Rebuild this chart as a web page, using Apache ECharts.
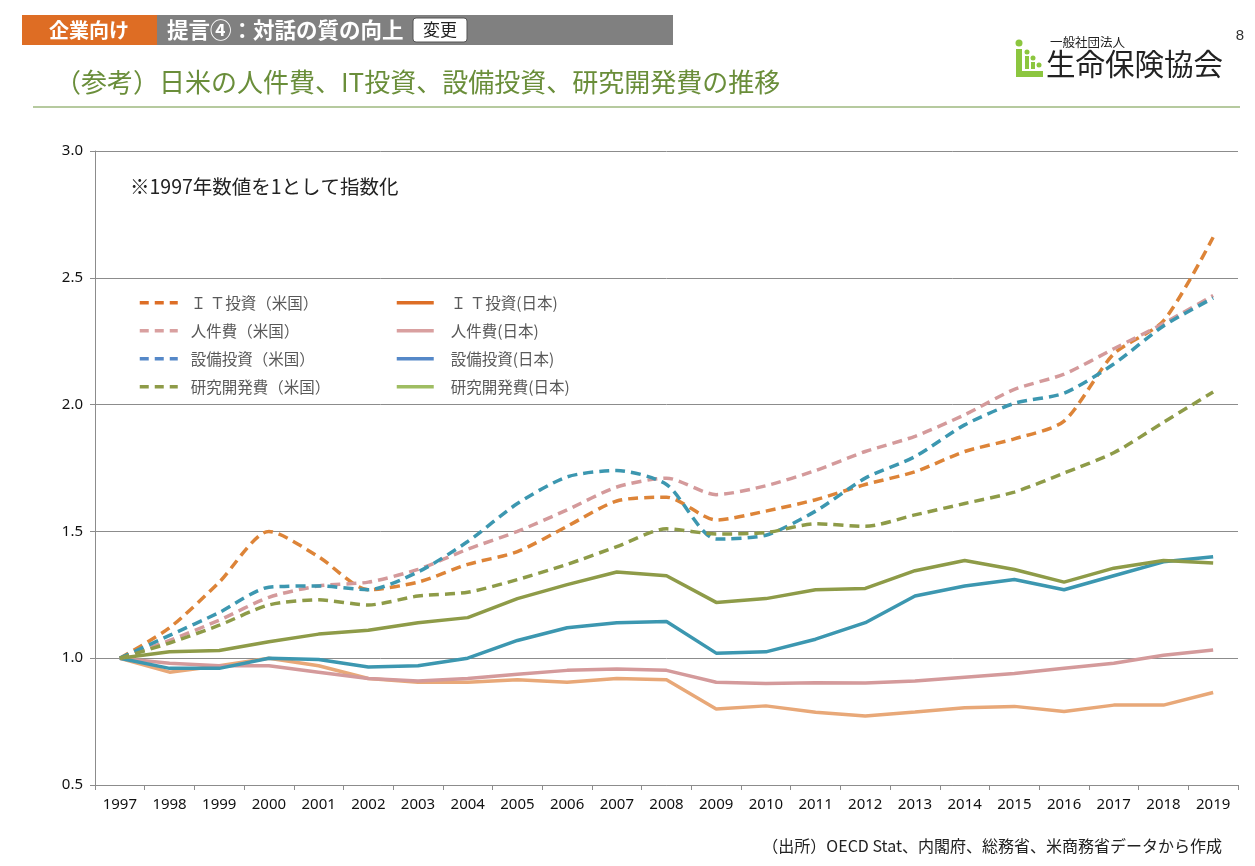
<!DOCTYPE html>
<html><head><meta charset="utf-8">
<script src="https://cdn.jsdelivr.net/npm/echarts@6/dist/echarts.min.js"></script>
<style>html,body{margin:0;padding:0;background:#fff}#c{width:1255px;height:866px}</style>
</head><body><div id="c"></div>
<script>
const years = ['1997','1998','1999','2000','2001','2002','2003','2004','2005','2006','2007','2008','2009','2010','2011','2012','2013','2014','2015','2016','2017','2018','2019'];
const itUS    = [1.00,1.12,1.30,1.50,1.40,1.27,1.30,1.37,1.42,1.52,1.62,1.635,1.545,1.58,1.625,1.685,1.735,1.815,1.865,1.935,2.20,2.33,2.66];
const laborUS = [1.00,1.07,1.15,1.24,1.285,1.30,1.35,1.43,1.50,1.585,1.675,1.71,1.645,1.68,1.74,1.815,1.875,1.96,2.06,2.12,2.22,2.32,2.43];
const equipUS = [1.00,1.09,1.18,1.28,1.285,1.27,1.34,1.46,1.61,1.715,1.74,1.685,1.47,1.485,1.58,1.71,1.795,1.92,2.005,2.045,2.16,2.31,2.42];
const rdUS    = [1.00,1.06,1.13,1.21,1.23,1.21,1.245,1.26,1.31,1.37,1.44,1.51,1.49,1.495,1.53,1.52,1.565,1.61,1.655,1.73,1.81,1.93,2.05];
const itJP    = [1.00,0.945,0.97,1.00,0.97,0.92,0.905,0.905,0.915,0.905,0.92,0.915,0.80,0.812,0.787,0.772,0.788,0.805,0.81,0.79,0.815,0.815,0.865];
const laborJP = [1.00,0.98,0.97,0.97,0.945,0.92,0.91,0.92,0.937,0.952,0.957,0.952,0.905,0.90,0.903,0.902,0.91,0.925,0.94,0.96,0.98,1.012,1.032];
const equipJP = [1.00,0.96,0.96,1.00,0.995,0.965,0.97,1.00,1.07,1.12,1.14,1.145,1.02,1.025,1.075,1.14,1.245,1.285,1.31,1.27,1.325,1.38,1.40];
const rdJP    = [1.00,1.025,1.03,1.065,1.095,1.11,1.14,1.16,1.235,1.29,1.34,1.325,1.22,1.235,1.27,1.275,1.345,1.385,1.35,1.30,1.355,1.385,1.375];
const names = ['Ｉ Ｔ投資（米国）','人件費（米国）','設備投資（米国）','研究開発費（米国）','Ｉ Ｔ投資(日本)','人件費(日本)','設備投資(日本)','研究開発費(日本)'];
const yTicks = [0.5,1.0,1.5,2.0,2.5,3.0];

const FONT = '"Noto Sans CJK JP","Noto Sans",sans-serif';
const lineCols = ['#DD8438','#D49A9B','#3C97B0','#8E9B48','#E8A878','#D49A9B','#3C97B0','#8E9B48'];
const legCols  = ['#DD6E26','#D9A0A0','#5588C8','#8E9B48','#DD6E26','#D9A0A0','#5588C8','#9FBD62'];
const datas = [itUS,laborUS,equipUS,rdUS,itJP,laborJP,equipJP,rdJP];

const series = datas.map((d,i)=>({
  name: names[i], type:'line', data:d, symbol:'none', showSymbol:false, smooth: i<4 ? 0.25 : false,
  z: i<4 ? 3 : 2,
  lineStyle:{color:lineCols[i], width:3.5, type: i<4 ? [10,6] : 'solid', cap:'butt'},
  itemStyle:{color:lineCols[i]}
}));

function legData(from,to){
  const out=[];
  for(let i=from;i<to;i++) out.push({name:names[i], itemStyle:{color:legCols[i], opacity:0, borderWidth:0},
    lineStyle:{color:legCols[i], width:3.5, type: i<4?[9,6]:'solid', opacity:1}});
  return out;
}

const chart = echarts.init(document.getElementById('c'));
chart.setOption({
  animation:false,
  textStyle:{fontFamily:FONT},
  grid:{left:95, top:151, width:1143, height:634, containLabel:false},
  legend:[
    {left:133, top:290, orient:'vertical', itemWidth:38, itemHeight:14, itemGap:12.5, data:legData(0,4),
     textStyle:{fontSize:15.5, color:'#595959', fontFamily:FONT, padding:[0,0,0,8]}},
    {left:390, top:290, orient:'vertical', itemWidth:37, itemHeight:14, itemGap:12.5, data:legData(4,8),
     textStyle:{fontSize:15.5, color:'#595959', fontFamily:FONT, padding:[0,0,0,12]}}
  ],
  xAxis:{type:'category', data:years, boundaryGap:true,
    axisLine:{lineStyle:{color:'#8c8c8c', width:1}},
    axisTick:{show:true, alignWithLabel:false, length:5, lineStyle:{color:'#8c8c8c'}},
    axisLabel:{color:'#111', fontSize:15, margin:12, fontFamily:'"Noto Sans",sans-serif'}},
  yAxis:{type:'value', min:0.5, max:3.0, interval:0.5,
    axisLine:{show:true, lineStyle:{color:'#8c8c8c'}},
    axisTick:{show:true, length:5, lineStyle:{color:'#8c8c8c'}},
    splitLine:{lineStyle:{color:'#8c8c8c', width:1}},
    axisLabel:{color:'#111', fontSize:15, margin:12, formatter:v=>v.toFixed(1), fontFamily:'"Noto Sans",sans-serif'}},
  series: series,
  graphic:[
    {type:'rect', shape:{x:22,y:15,width:135,height:30}, style:{fill:'#DE6D24'}},
    {type:'rect', shape:{x:157,y:15,width:516,height:30}, style:{fill:'#808080'}},
    {type:'text', x:89, y:30, style:{text:'企業向け', fill:'#fff', fontSize:20, fontWeight:'bold', fontFamily:FONT, align:'center', verticalAlign:'middle'}},
    {type:'text', x:167, y:30, style:{text:'提言④：対話の質の向上', fill:'#fff', fontSize:21.5, fontWeight:'bold', fontFamily:FONT, align:'left', verticalAlign:'middle'}},
    {type:'rect', shape:{x:413,y:18,width:54,height:24,r:3}, style:{fill:'#fff', stroke:'#555', lineWidth:1}},
    {type:'text', x:440, y:30, style:{text:'変更', fill:'#222', fontSize:17, fontFamily:FONT, align:'center', verticalAlign:'middle'}},
    {type:'text', x:55, y:82, style:{text:'（参考）日米の人件費、IT投資、設備投資、研究開発費の推移', fill:'#6A8E3A', fontSize:26, fontFamily:FONT, align:'left', verticalAlign:'middle'}},
    {type:'line', shape:{x1:33,y1:107,x2:1240,y2:107}, style:{stroke:'#6E9640', lineWidth:1.2}},
    {type:'text', x:1240, y:36, style:{text:'8', fill:'#333', fontSize:15, fontFamily:'"Liberation Sans",sans-serif', align:'center', verticalAlign:'middle'}},
    // logo
    {type:'circle', shape:{cx:1019,cy:43,r:3.5}, style:{fill:'#8CC63F'}},
    {type:'rect', shape:{x:1016,y:49,width:6,height:28}, style:{fill:'#8CC63F'}},
    {type:'rect', shape:{x:1016,y:71,width:27,height:6}, style:{fill:'#8CC63F'}},
    {type:'circle', shape:{cx:1027,cy:52,r:2.5}, style:{fill:'#8CC63F'}},
    {type:'rect', shape:{x:1025,y:56,width:4,height:13}, style:{fill:'#8CC63F'}},
    {type:'circle', shape:{cx:1033,cy:58,r:2.5}, style:{fill:'#8CC63F'}},
    {type:'rect', shape:{x:1031,y:62,width:4,height:7}, style:{fill:'#8CC63F'}},
    {type:'circle', shape:{cx:1039,cy:65,r:2.5}, style:{fill:'#8CC63F'}},
    {type:'text', x:1050, y:42, style:{text:'一般社団法人', fill:'#222', fontSize:12.5, fontFamily:FONT, align:'left', verticalAlign:'middle'}},
    {type:'text', x:1046, y:64, style:{text:'生命保険協会', fill:'#222', fontSize:29.5, fontFamily:FONT, align:'left', verticalAlign:'middle'}},
    // notes
    {type:'text', x:130, y:187, style:{text:'※1997年数値を1として指数化', fill:'#222', fontSize:19.5, fontFamily:FONT, align:'left', verticalAlign:'middle'}},
    {type:'text', x:1222, y:846, style:{text:'（出所）OECD Stat、内閣府、総務省、米商務省データから作成', fill:'#222', fontSize:16, fontFamily:FONT, align:'right', verticalAlign:'middle'}}
  ]
});
</script></body></html>
